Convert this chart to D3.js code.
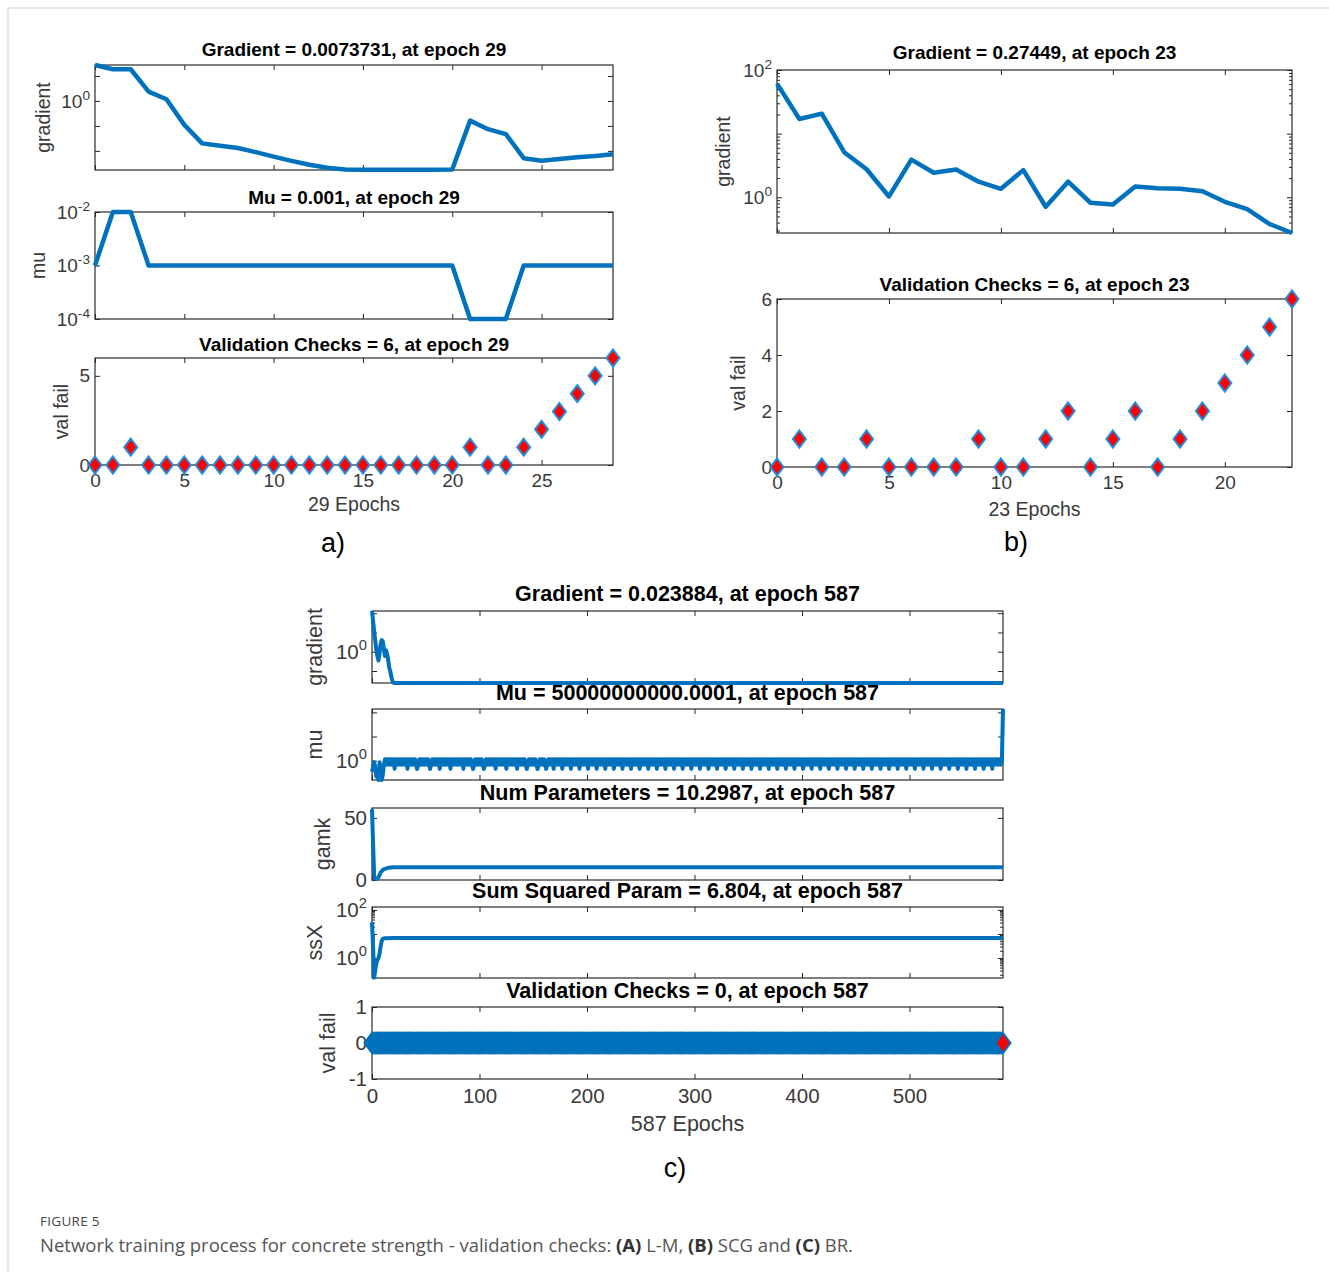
<!DOCTYPE html>
<html>
<head>
<meta charset="utf-8">
<script src="https://cdn.jsdelivr.net/npm/d3@7"></script>
<style>
  body { margin: 0; background: #fff; }
  svg text { font-family: "Liberation Sans", Arial, Helvetica, sans-serif; }
  .title { font-weight: bold; fill: #000; text-anchor: middle; }
  .label { fill: #3a3a3a; text-anchor: middle; }
  .tick text { fill: #3a3a3a; }
  .tick line { stroke: #262626; }
  .box { fill: none; stroke: #2b2b2b; stroke-width: 1.2; }
  .line { fill: none; stroke: #0072BD; stroke-linejoin: round; }
  .caption { font-family: "Open Sans", "Noto Sans", sans-serif; }
</style>
</head>
<body>
<svg id="fig" width="1329" height="1272"></svg>
<script>
// ---------- data ----------

// (a) Levenberg-Marquardt, epochs 0..29
const epochsA = d3.range(0, 30);
const gradA = [27.5, 18.6, 18.6, 2.35, 1.17, 0.11, 0.020, 0.016, 0.013, 0.0089,
  0.0059, 0.0040, 0.0028, 0.0021, 0.0018, 0.00175, 0.00175, 0.00175, 0.00175, 0.00175,
  0.0018, 0.163, 0.074, 0.047, 0.0051, 0.0040, 0.0047, 0.0056, 0.0063, 0.0073731];
const muA = [0.001, 0.01, 0.01, 0.001, 0.001, 0.001, 0.001, 0.001, 0.001, 0.001,
  0.001, 0.001, 0.001, 0.001, 0.001, 0.001, 0.001, 0.001, 0.001, 0.001,
  0.001, 0.0001, 0.0001, 0.0001, 0.001, 0.001, 0.001, 0.001, 0.001, 0.001];
const valA = [0, 0, 1, 0, 0, 0, 0, 0, 0, 0, 0, 0, 0, 0, 0, 0, 0, 0, 0, 0,
  0, 1, 0, 0, 1, 2, 3, 4, 5, 6];

// (b) scaled conjugate gradient, epochs 0..23
const epochsB = d3.range(0, 24);
const gradB = [61, 17, 20.6, 5.1, 2.76, 1.03, 3.9, 2.43, 2.73, 1.76, 1.36, 2.67,
  0.71, 1.76, 0.82, 0.77, 1.48, 1.39, 1.36, 1.24, 0.85, 0.65, 0.38, 0.27449];
const valB = [0, 1, 0, 0, 1, 0, 0, 0, 0, 1, 0, 0, 1, 2, 0, 1, 2, 0, 1, 2, 3, 4, 5, 6];

// (c) Bayesian regularisation, epochs 0..587  ([epoch, value] break points)
const lastEpochC = 587;
const gradC = [[0, 130], [1, 40], [2, 12], [3, 4], [4, 1.2], [5, 0.6], [6, 0.35], [7, 0.8],
  [8, 2.5], [9, 4], [10, 3.5], [11, 1.5], [12, 0.6], [13, 1.2], [14, 0.8], [15, 0.4],
  [16, 0.15], [17, 0.1], [18, 0.05], [19, 0.03], [20, 0.025], [21, 0.0239], [587, 0.023884]];
const muCStart = [0.005, 0.05, 0.5, 0.05, 0.0005, 0.005, 0.0001, 0.5, 0.05, 0.0001,
  0.001, 0.1, 2, 0.15, 2, 0.15];
const muCHigh = 2, muCLow = 0.15, muCDip = 0.02;
const muCDips = [21, 33, 42, 54, 63, 73, 85, 94, 104, 115, 125, 135, 144, 154, 162, 169,
  177, 185, 193, 201, 209, 217, 225, 233, 241, 249, 257, 265, 273, 281, 289, 297, 305,
  313, 321, 329, 337, 345, 353, 361, 369, 377, 385, 393, 401, 409, 417, 425, 433, 441,
  449, 457, 465, 473, 481, 489, 497, 505, 513, 521, 529, 537, 545, 553, 561, 569, 577];
const muCEnd = [[586, 2], [587, 5e10]];
const gamkC = [[0, 57], [1, 30], [2, 3], [3, 1], [5, 1], [6, 2], [7, 4], [8, 6], [10, 8],
  [12, 9], [15, 9.8], [20, 10.2], [587, 10.2987]];
const ssxC = [[0, 30], [1, 3], [2, 0.15], [3, 0.3], [4, 0.6], [5, 0.8], [6, 1], [7, 1.5],
  [8, 3], [9, 5], [10, 6.2], [12, 6.7], [20, 6.8], [587, 6.804]];
const valCValue = 0;   // validation checks stay at 0 for every epoch

// ---------- helpers ----------
const svg = d3.select("#fig");

// figure frame
svg.append("line").attr("x1", 8).attr("y1", 8).attr("x2", 1329).attr("y2", 8)
  .attr("stroke", "#cfcfcf").attr("stroke-width", 1);
svg.append("line").attr("x1", 8).attr("y1", 8).attr("x2", 8).attr("y2", 1272)
  .attr("stroke", "#cfcfcf").attr("stroke-width", 1);

function supLabels(sel, fs) {
  sel.selectAll(".tick text").each(function(d) {
    const t = d3.select(this);
    const e = Math.round(Math.log10(d));
    t.text("10");
    t.append("tspan").attr("dy", -fs * 0.42).attr("font-size", fs * 0.72).text(e);
  });
}

function diamondPath(w, h) {
  return "M0," + (-h) + "L" + w + ",0L0," + h + "L" + (-w) + ",0Z";
}

function panel(o) {
  const x = d3.scaleLinear().domain(o.xDomain).range([o.left, o.right]);
  const y = (o.log ? d3.scaleLog() : d3.scaleLinear()).domain(o.yDomain).range([o.bottom, o.top]);
  const g = svg.append("g");
  const fs = o.fs;

  // title
  g.append("text").attr("class", "title")
    .attr("x", (o.left + o.right) / 2).attr("y", o.titleY)
    .style("font-size", fs.title + "px").text(o.title);

  // y label
  g.append("text").attr("class", "label")
    .attr("transform", "translate(" + o.labelX + "," + (o.top + o.bottom) / 2 + ") rotate(-90)")
    .style("font-size", fs.label + "px").text(o.ylabel);

  // x axes (bottom with labels only on the last panel, top mirrored)
  const xb = g.append("g").attr("transform", "translate(0," + o.bottom + ")")
    .call(d3.axisBottom(x).tickValues(o.xTicks).tickSize(-5).tickSizeOuter(0)
      .tickPadding(9).tickFormat(o.xTickLabels ? d3.format("d") : ""));
  xb.select(".domain").remove();
  xb.selectAll("text").style("font-size", fs.tick + "px");
  const xt = g.append("g").attr("transform", "translate(0," + o.top + ")")
    .call(d3.axisTop(x).tickValues(o.xTicks).tickSize(-5).tickSizeOuter(0).tickFormat(""));
  xt.select(".domain").remove();

  // y axes
  const yl = g.append("g").attr("transform", "translate(" + o.left + ",0)")
    .call(d3.axisLeft(y).tickValues(o.yTicks).tickSize(-5).tickSizeOuter(0).tickPadding(5)
      .tickFormat(d => o.yLabels.includes(d) ? d : ""));
  yl.select(".domain").remove();
  yl.selectAll("text").style("font-size", fs.tick + "px");
  if (o.log) {
    yl.selectAll(".tick").filter(d => !o.yLabels.includes(d)).select("text").remove();
    supLabels(yl, fs.tick);
  }
  const yr = g.append("g").attr("transform", "translate(" + o.right + ",0)")
    .call(d3.axisRight(y).tickValues(o.yTicks).tickSize(-5).tickSizeOuter(0).tickFormat(""));
  yr.select(".domain").remove();

  if (o.minor) {
    [[o.left, d3.axisLeft], [o.right, d3.axisRight]].forEach(function(p) {
      const m = g.append("g").attr("transform", "translate(" + p[0] + ",0)")
        .call(p[1](y).tickValues(o.minor).tickSize(-3).tickSizeOuter(0).tickFormat(""));
      m.select(".domain").remove();
    });
  }

  // box
  g.append("rect").attr("class", "box")
    .attr("x", o.left).attr("y", o.top)
    .attr("width", o.right - o.left).attr("height", o.bottom - o.top);

  if (o.xlabel) {
    g.append("text").attr("class", "label")
      .attr("x", (o.left + o.right) / 2).attr("y", o.xlabelY)
      .style("font-size", fs.label + "px").text(o.xlabel);
  }
  return { g: g, x: x, y: y };
}

function drawLine(p, pts, width) {
  p.g.append("path").datum(pts).attr("class", "line")
    .attr("stroke-width", width)
    .attr("d", d3.line().x(d => p.x(d[0])).y(d => p.y(d[1])));
}

function drawDiamonds(p, pts, w, h, stroke) {
  p.g.selectAll("path.mk").data(pts).enter().append("path")
    .attr("class", "mk")
    .attr("d", diamondPath(w, h))
    .attr("transform", d => "translate(" + p.x(d[0]) + "," + p.y(d[1]) + ")")
    .attr("fill", "#ff0000")
    .attr("stroke", stroke)
    .attr("stroke-width", 2);
}

function minorTicks(lo, hi) {
  const out = [];
  for (let e = lo; e < hi; e++) for (let k = 2; k <= 9; k++) out.push(k * Math.pow(10, e));
  return out;
}

const fsAB = { title: 19, label: 19.5, tick: 19 };
const fsC = { title: 21.5, label: 21.5, tick: 20.5 };

// ---------- (a) ----------
const xA = { left: 95, right: 613, xDomain: [0, 29], xTicks: [0, 5, 10, 15, 20, 25], fs: fsAB };

const pA1 = panel(Object.assign({}, xA, {
  top: 65, bottom: 170, log: true, yDomain: [0.00172, 27.5],
  yTicks: [0.01, 0.1, 1, 10], yLabels: [1],
  title: "Gradient = 0.0073731, at epoch 29", titleY: 56, ylabel: "gradient", labelX: 50
}));
drawLine(pA1, epochsA.map((e, i) => [e, gradA[i]]), 4.5);

const pA2 = panel(Object.assign({}, xA, {
  top: 212, bottom: 319, log: true, yDomain: [1e-4, 1e-2],
  yTicks: [1e-4, 1e-3, 1e-2], yLabels: [1e-4, 1e-3, 1e-2],
  title: "Mu = 0.001, at epoch 29", titleY: 204, ylabel: "mu", labelX: 45
}));
drawLine(pA2, epochsA.map((e, i) => [e, muA[i]]), 4.5);

const pA3 = panel(Object.assign({}, xA, {
  top: 358, bottom: 465, log: false, yDomain: [0, 6],
  yTicks: [0, 5], yLabels: [0, 5], xTickLabels: true,
  title: "Validation Checks = 6, at epoch 29", titleY: 351, ylabel: "val fail", labelX: 68,
  xlabel: "29 Epochs", xlabelY: 511
}));
drawDiamonds(pA3, epochsA.map((e, i) => [e, valA[i]]), 6.5, 8.5, "#1f8fdc");

svg.append("text").attr("x", 333).attr("y", 552).attr("text-anchor", "middle")
  .style("font-size", "27px").text("a)");

// ---------- (b) ----------
const xB = { left: 777, right: 1292, xDomain: [0, 23], xTicks: [0, 5, 10, 15, 20], fs: fsAB };

const pB1 = panel(Object.assign({}, xB, {
  top: 70, bottom: 233, log: true, yDomain: [0.27449, 100],
  yTicks: [1, 10, 100], yLabels: [1, 100], minor: minorTicks(-1, 2).filter(v => v > 0.27449),
  title: "Gradient = 0.27449, at epoch 23", titleY: 59, ylabel: "gradient", labelX: 730
}));
drawLine(pB1, epochsB.map((e, i) => [e, gradB[i]]), 4.5);

const pB2 = panel(Object.assign({}, xB, {
  top: 299, bottom: 467, log: false, yDomain: [0, 6],
  yTicks: [0, 2, 4, 6], yLabels: [0, 2, 4, 6], xTickLabels: true,
  title: "Validation Checks = 6, at epoch 23", titleY: 291, ylabel: "val fail", labelX: 745,
  xlabel: "23 Epochs", xlabelY: 516
}));
drawDiamonds(pB2, epochsB.map((e, i) => [e, valB[i]]), 6.5, 8.5, "#1f8fdc");

svg.append("text").attr("x", 1016).attr("y", 551).attr("text-anchor", "middle")
  .style("font-size", "27px").text("b)");

// ---------- (c) ----------
const xC = { left: 372, right: 1003, xDomain: [0, lastEpochC], xTicks: [0, 100, 200, 300, 400, 500], fs: fsC };

const pC1 = panel(Object.assign({}, xC, {
  top: 611, bottom: 683, log: true, yDomain: [0.023884, 130],
  yTicks: [0.1, 1, 10, 100], yLabels: [1],
  title: "Gradient = 0.023884, at epoch 587", titleY: 601, ylabel: "gradient", labelX: 322
}));
drawLine(pC1, gradC, 4);

const pC2 = panel(Object.assign({}, xC, {
  top: 709, bottom: 780, log: true, yDomain: [1e-4, 5e10],
  yTicks: [1, 1e5, 1e10], yLabels: [1],
  title: "Mu = 50000000000.0001, at epoch 587", titleY: 700, ylabel: "mu", labelX: 322
}));
const muC = [];
for (let e = 0; e <= lastEpochC; e++) {
  let v;
  if (e < muCStart.length) v = muCStart[e];
  else if (e >= muCEnd[0][0]) v = muCEnd[e - muCEnd[0][0]][1];
  else if (muCDips.includes(e)) v = muCDip;
  else v = (e % 2) ? muCLow : muCHigh;
  muC.push([e, v]);
}
drawLine(pC2, muC, 4);

const pC3 = panel(Object.assign({}, xC, {
  top: 808, bottom: 880, log: false, yDomain: [0, 58],
  yTicks: [0, 50], yLabels: [0, 50],
  title: "Num Parameters = 10.2987, at epoch 587", titleY: 800, ylabel: "gamk", labelX: 330
}));
drawLine(pC3, gamkC, 4);

const pC4 = panel(Object.assign({}, xC, {
  top: 907, bottom: 978, log: true, yDomain: [0.147, 133],
  yTicks: [1, 10, 100], yLabels: [1, 100], minor: minorTicks(-1, 2).filter(v => v > 0.147 && v < 133),
  title: "Sum Squared Param = 6.804, at epoch 587", titleY: 898, ylabel: "ssX", labelX: 322
}));
drawLine(pC4, ssxC, 4);

const pC5 = panel(Object.assign({}, xC, {
  top: 1007, bottom: 1079, log: false, yDomain: [-1, 1],
  yTicks: [-1, 0, 1], yLabels: [-1, 0, 1], xTickLabels: true,
  title: "Validation Checks = 0, at epoch 587", titleY: 998, ylabel: "val fail", labelX: 335,
  xlabel: "587 Epochs", xlabelY: 1131
}));
drawDiamonds(pC5, d3.range(0, lastEpochC + 1).map(e => [e, valCValue]), 7.5, 10, "#0072BD");

svg.append("text").attr("x", 675).attr("y", 1177).attr("text-anchor", "middle")
  .style("font-size", "27px").text("c)");

// ---------- caption ----------
svg.append("text").attr("class", "caption").attr("x", 40).attr("y", 1226)
  .style("font-size", "13.5px").style("fill", "#444").style("letter-spacing", "0.3px")
  .text("FIGURE 5");
const cap = svg.append("text").attr("class", "caption").attr("x", 40).attr("y", 1252)
  .style("font-size", "18.5px").style("fill", "#555");
[["Network training process for concrete strength - validation checks: ", false],
 ["(A)", true], [" L-M, ", false], ["(B)", true], [" SCG and ", false],
 ["(C)", true], [" BR.", false]].forEach(function(s) {
  cap.append("tspan").style("font-weight", s[1] ? "bold" : "normal")
    .style("fill", s[1] ? "#333" : "#555").text(s[0]);
});
</script>
</body>
</html>
